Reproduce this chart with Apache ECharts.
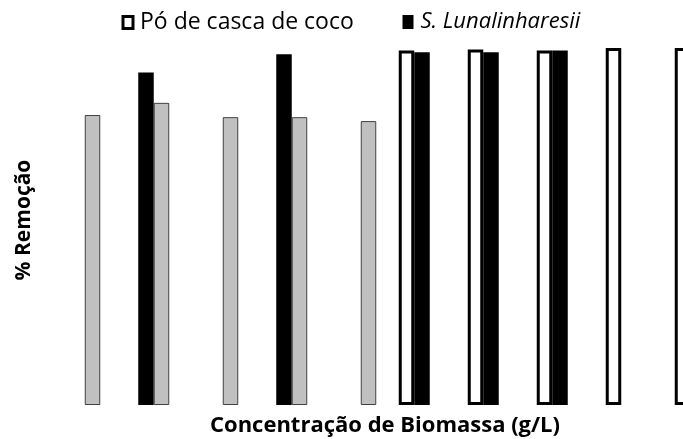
<!DOCTYPE html>
<html>
<head>
<meta charset="utf-8">
<script src="https://cdn.jsdelivr.net/npm/echarts@6/dist/echarts.min.js"></script>
<style>
  html, body { margin: 0; padding: 0; background: #fff; overflow: hidden; }
  /* o gráfico original está cortado à direita: a área é mais larga que a janela */
  #chart { width: 734px; height: 439px; }
</style>
</head>
<body>
<div id="chart"></div>
<script>
// categorias (sem rótulos visíveis na figura)
var categorias = ['1', '2', '3', '4', '5', '6', '7', '8', '9', '10'];
// % remoção por série (null = sem barra)
var poCoco = [null, null, null, null, null, 99.0, 99.3, 99.0, 99.7, 99.7];
var lunalinharesii = [null, 92.9, null, 98.0, null, 98.5, 98.5, 99.0, null, null];
var outra = [81.0, 84.4, 80.4, 80.4, 79.3, null, null, null, null, null];

var chart = echarts.init(document.getElementById('chart'));

var option = {
  animation: false,
  backgroundColor: '#fff',
  legend: [
    {
      top: 11,
      left: 121.5,
      padding: 0,
      itemWidth: 10,
      itemHeight: 12,
      icon: 'rect',
      textStyle: { fontFamily: 'Open Sans', fontSize: 23, color: '#000', padding: [0, 0, 0, 2] },
      data: [
        { name: 'Pó de casca de coco', itemStyle: { color: '#fff', borderColor: '#000', borderWidth: 3 } }
      ]
    },
    {
      top: 11,
      left: 402.5,
      padding: 0,
      itemWidth: 11,
      itemHeight: 14,
      icon: 'rect',
      textStyle: { fontFamily: 'Open Sans', fontSize: 22, color: '#000', padding: [0, 0, 0, 2] },
      data: [
        { name: 'S. Lunalinharesii', itemStyle: { color: '#000', borderWidth: 0 }, textStyle: { fontStyle: 'italic' } }
      ]
    }
  ],
  grid: { left: 42.5, top: 47, right: 1.5, bottom: 34 },
  xAxis: {
    type: 'category',
    data: categorias,
    axisLine: { show: false },
    axisTick: { show: false },
    axisLabel: { show: false }
  },
  yAxis: {
    type: 'value',
    min: 0,
    max: 100,
    axisLine: { show: false },
    axisTick: { show: false },
    axisLabel: { show: false },
    splitLine: { show: false }
  },
  series: [
    {
      name: 'Pó de casca de coco',
      type: 'bar',
      barWidth: 15.5,
      barGap: '0%',
      data: poCoco,
      itemStyle: { color: '#fff', borderColor: '#000', borderWidth: 3 }
    },
    {
      name: 'S. Lunalinharesii',
      type: 'bar',
      barWidth: 15.5,
      barGap: '0%',
      data: lunalinharesii,
      itemStyle: { color: '#000' }
    },
    {
      name: 'Outra',
      type: 'bar',
      barWidth: 15.5,
      barGap: '0%',
      data: outra,
      itemStyle: { color: '#c0c0c0', borderColor: '#404040', borderWidth: 1 }
    }
  ],
  graphic: [
    {
      type: 'text',
      x: 385,
      y: 426,
      style: {
        text: 'Concentração de Biomassa (g/L)',
        font: 'bold 22px "Open Sans"',
        fill: '#000',
        align: 'center',
        verticalAlign: 'middle'
      }
    },
    {
      type: 'text',
      x: 24,
      y: 220,
      rotation: Math.PI / 2,
      style: {
        text: '% Remoção',
        font: 'bold 21px "Open Sans"',
        fill: '#000',
        align: 'center',
        verticalAlign: 'middle'
      }
    }
  ]
};

chart.setOption(option);
</script>
</body>
</html>
